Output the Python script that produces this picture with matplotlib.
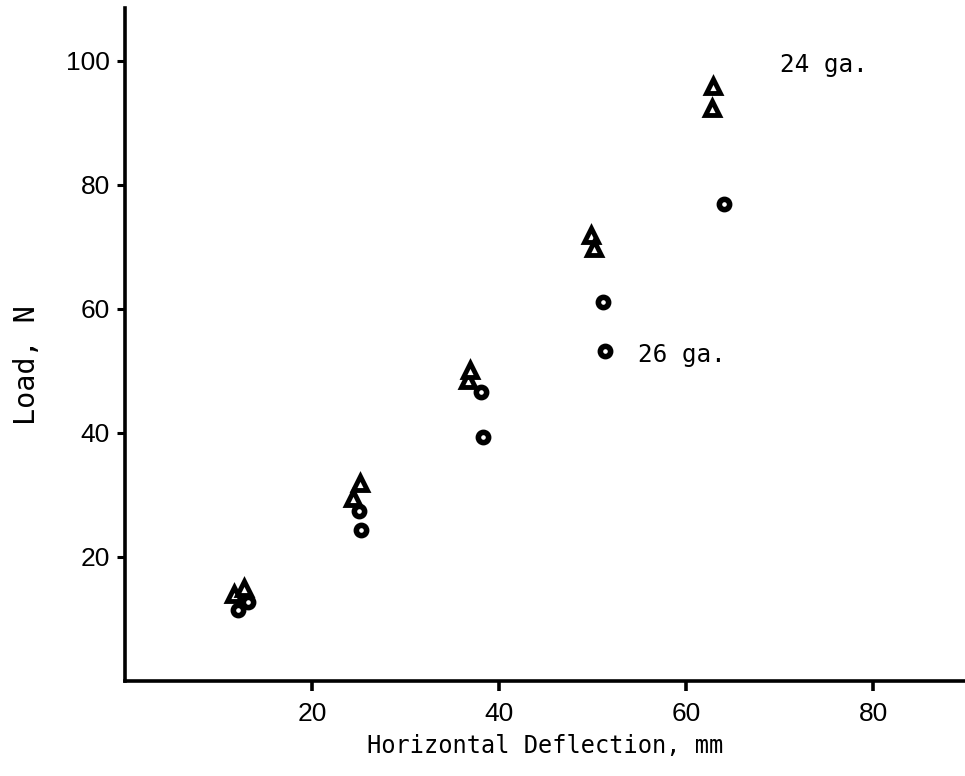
import matplotlib
matplotlib.use("Agg")
import matplotlib.pyplot as plt

# 24 gauge (triangles)
ga24_x = [11.7, 12.7, 24.4, 25.1, 36.7, 36.9, 49.8, 50.1, 62.8, 62.9]
ga24_y = [14.0, 15.0, 29.5, 31.9, 48.5, 50.2, 71.9, 69.8, 92.4, 96.0]
# 26 gauge (circles)
ga26_x = [12.1, 13.2, 25.0, 25.2, 38.1, 38.3, 51.1, 51.3, 64.0]
ga26_y = [11.5, 12.7, 27.4, 24.4, 46.6, 39.4, 61.1, 53.2, 76.9]

x_ticks = [20, 40, 60, 80]
y_ticks = [20, 40, 60, 80, 100]
x_label = "Horizontal Deflection, mm"
y_label = "Load, N"
label_24 = "24 ga."
label_26 = "26 ga."

mono = "DejaVu Sans Mono"
sans = "Liberation Sans"

fig = plt.figure(figsize=(9.65, 7.76), dpi=100)
ax = fig.add_axes([125/965, 95/776, 840/965, 673/776])

ax.plot(ga24_x, ga24_y, linestyle="none", marker="^", ms=9.6, mew=3.5,
        mfc="white", mec="black", clip_on=False)
ax.plot(ga26_x, ga26_y, linestyle="none", marker="o", ms=7.4, mew=4.0,
        mfc="white", mec="black", clip_on=False)

ax.set_xlim(0, 89.8)
ax.set_ylim(0, 108.5)

for s in ["top", "right"]:
    ax.spines[s].set_visible(False)
for s in ["left", "bottom"]:
    ax.spines[s].set_linewidth(2.6)

ax.set_xticks(x_ticks)
ax.set_yticks(y_ticks)
ax.tick_params(axis="x", direction="out", length=7, width=2.6, pad=8,
               labelsize=19)
ax.tick_params(axis="y", direction="out", length=6, width=2.2, pad=5,
               labelsize=19)
for lab in ax.get_xticklabels() + ax.get_yticklabels():
    lab.set_fontfamily(sans)

ax.set_xlabel(x_label, fontsize=17, family=mono, labelpad=6)
ax.set_ylabel(y_label, fontsize=20.5, family=mono)
ax.yaxis.set_label_coords(-0.100, 0.47)

ax.text(70.0, 99.3, label_24, fontsize=17.5, family=mono,
        ha="left", va="center")
ax.text(54.8, 52.6, label_26, fontsize=17.5, family=mono,
        ha="left", va="center")

fig.savefig("out.png", dpi=100, facecolor="white")
